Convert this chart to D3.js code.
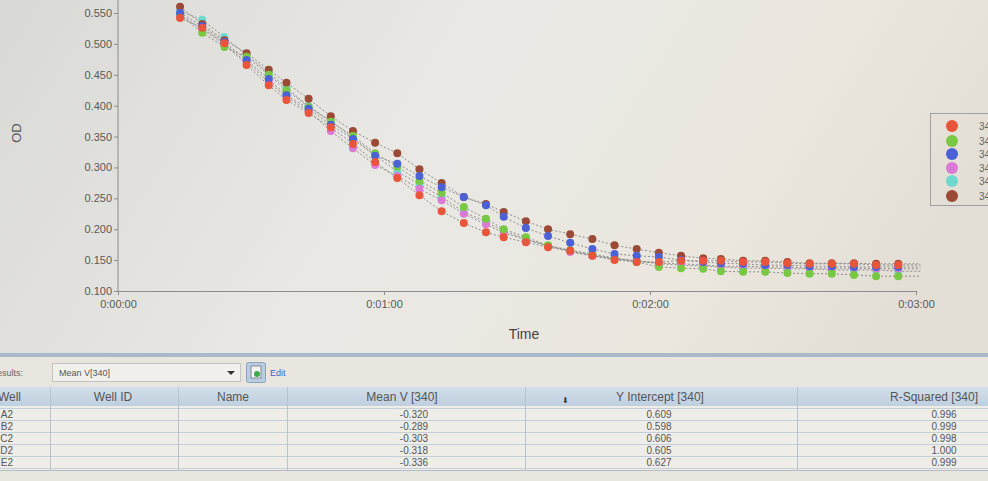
<!DOCTYPE html>
<html><head><meta charset="utf-8">
<script src="https://cdn.jsdelivr.net/npm/d3@7"></script>
<style>
body{margin:0;background:#e6e4df;}
svg{display:block;font-family:"Liberation Sans",Arial,sans-serif;}
</style>
</head><body>
<svg id="c" width="988" height="481"></svg>
<script>
// ---- data ----
const timesSec = [14,19,24,29,34,38,43,48,53,58,63,68,73,78,83,87,92,97,102,107,112,117,122,127,132,136,141,146,151,156,161,166,171,176];
const xTickSec = [0,60,120,180];
const xTickLabels = ["0:00:00","0:01:00","0:02:00","0:03:00"];
const yTicks = [0.100,0.150,0.200,0.250,0.300,0.350,0.400,0.450,0.500,0.550];
const seriesNames = ["340 A2","340 B2","340 C2","340 D2","340 E2","340 F2"];
const seriesColors = ["#e8553a","#78c843","#4a62d6","#da7ad6","#6fd8cf","#9b4a35"];
const odA2 = [0.542,0.526,0.501,0.466,0.433,0.409,0.388,0.365,0.338,0.309,0.283,0.255,0.229,0.210,0.195,0.187,0.179,0.171,0.165,0.157,0.150,0.147,0.147,0.149,0.149,0.149,0.147,0.147,0.145,0.144,0.144,0.144,0.142,0.142];
const odB2 = [0.547,0.518,0.495,0.479,0.450,0.425,0.398,0.374,0.351,0.323,0.301,0.278,0.259,0.236,0.217,0.200,0.187,0.174,0.166,0.160,0.153,0.147,0.139,0.137,0.136,0.132,0.131,0.131,0.129,0.128,0.128,0.126,0.124,0.124];
const odC2 = [0.550,0.529,0.503,0.474,0.443,0.417,0.395,0.369,0.346,0.319,0.306,0.286,0.268,0.252,0.239,0.220,0.202,0.189,0.178,0.168,0.160,0.157,0.155,0.150,0.147,0.145,0.144,0.142,0.142,0.140,0.140,0.139,0.139,0.139];
const odD2 = [0.547,0.524,0.498,0.471,0.438,0.414,0.391,0.359,0.331,0.304,0.286,0.265,0.247,0.225,0.208,0.194,0.183,0.173,0.163,0.157,0.152,0.149,0.145,0.144,0.142,0.140,0.140,0.139,0.139,0.137,0.137,0.137,0.136,0.136];
const odE2 = [0.553,0.539,0.511,0.482,0.453,0.429,0.399,0.375,0.348,0.320,0.293,0.273,0.252,0.228,0.212,0.197,0.184,0.173,0.165,0.158,0.153,0.149,0.144,0.142,0.140,0.139,0.137,0.137,0.136,0.136,0.134,0.134,0.134,0.132];
const odF2 = [0.560,0.532,0.506,0.485,0.458,0.437,0.411,0.383,0.359,0.340,0.323,0.297,0.275,0.252,0.241,0.228,0.213,0.200,0.192,0.184,0.174,0.168,0.162,0.157,0.153,0.152,0.149,0.149,0.147,0.145,0.145,0.145,0.144,0.144];
const seriesValues = [odA2,odB2,odC2,odD2,odE2,odF2];
const drawOrder = [4,3,5,1,2,0];

const tableHeaders = ["Well","Well ID","Name","Mean V [340]","Y Intercept [340]","R-Squared [340]"];
const tableWells = ["A2","B2","C2","D2","E2"];
const meanV = ["-0.320","-0.289","-0.303","-0.318","-0.336"];
const yIntercept = ["0.609","0.598","0.606","0.605","0.627"];
const rSquared = ["0.996","0.999","0.998","1.000","0.999"];

// ---- drawing ----
const svg = d3.select("#c");
const defs = svg.append("defs");
const bg = defs.append("linearGradient").attr("id","bg").attr("x1","0").attr("x2","1").attr("y1","0").attr("y2","0.3");
bg.append("stop").attr("offset","0").attr("stop-color","#d9d9d6");
bg.append("stop").attr("offset","0.45").attr("stop-color","#e9e8e4");
bg.append("stop").attr("offset","0.8").attr("stop-color","#ebe7df");
bg.append("stop").attr("offset","1").attr("stop-color","#e4dfd6");
const hdr = defs.append("linearGradient").attr("id","hdr").attr("x1","0").attr("x2","0").attr("y1","0").attr("y2","1");
hdr.append("stop").attr("offset","0").attr("stop-color","#d3dfea");
hdr.append("stop").attr("offset","1").attr("stop-color","#bfcfdf");

svg.append("rect").attr("width",988).attr("height",481).attr("fill","url(#bg)");

const x = d3.scaleLinear().domain([0,180]).range([118,916]);
const y = d3.scaleLinear().domain([0.1,0.55]).range([291,13]);

// axes
const yAxis = d3.axisLeft(y).tickValues(yTicks).tickFormat(d3.format(".3f")).tickSize(4).tickSizeOuter(0);
const gy = svg.append("g").attr("transform","translate(118,0)").call(yAxis);
gy.select(".domain").attr("d","M0,0V291").attr("stroke","#8c8c8c");
gy.selectAll(".tick line").attr("stroke","#8c8c8c");
gy.selectAll(".tick text").attr("fill","#5a5a5a").attr("font-size",11).attr("x",-6);

const xAxis = d3.axisBottom(x).tickValues(xTickSec).tickFormat((d,i)=>xTickLabels[i]).tickSize(4).tickSizeOuter(0);
const gx = svg.append("g").attr("transform","translate(0,291)").call(xAxis);
gx.select(".domain").attr("stroke","#8c8c8c");
gx.selectAll(".tick line").attr("stroke","#8c8c8c");
gx.selectAll(".tick text").attr("fill","#5a5a5a").attr("font-size",11).attr("dy","0.9em");

svg.append("text").attr("x",524).attr("y",339).attr("text-anchor","middle").attr("font-size",14).attr("fill","#444").text("Time");
svg.append("text").attr("transform","translate(21,133) rotate(-90)").attr("text-anchor","middle").attr("font-size",13).attr("fill","#555").text("OD");

// dashed lines
const line = d3.line().x(d=>x(d[0])).y(d=>y(d[1]));
seriesValues.forEach((vals,si)=>{
  const pts = timesSec.map((t,i)=>[t,vals[i]]);
  pts.push([181, vals[vals.length-1]]);
  svg.append("path").datum(pts).attr("d",line).attr("fill","none")
    .attr("stroke","#7e7e7e").attr("stroke-width",1).attr("stroke-dasharray","2,2").attr("opacity",0.85);
});
// points
drawOrder.forEach(si=>{
  svg.append("g").selectAll("circle").data(timesSec.map((t,i)=>[t,seriesValues[si][i]]))
    .join("circle").attr("cx",d=>x(d[0])).attr("cy",d=>y(d[1])).attr("r",4)
    .attr("fill",seriesColors[si]);
});

// legend
const lg = svg.append("g");
lg.append("rect").attr("x",930.5).attr("y",113.5).attr("width",70).attr("height",92).attr("fill","none").attr("stroke","#a0a0a0");
const legY = [126,141,154,168,181,196];
seriesNames.forEach((n,i)=>{
  lg.append("circle").attr("cx",952).attr("cy",legY[i]).attr("r",6).attr("fill",seriesColors[i]);
  lg.append("text").attr("x",979).attr("y",legY[i]+4).attr("font-size",10).attr("fill","#666").text(n);
});

// bottom panel
svg.append("rect").attr("x",0).attr("y",357).attr("width",988).attr("height",124).attr("fill","#e9e6e0");
svg.append("rect").attr("x",0).attr("y",353).attr("width",988).attr("height",4).attr("fill","#a9b9c9");
svg.append("text").attr("x",23).attr("y",376).attr("text-anchor","end").attr("font-size",9).attr("fill","#666").text("Results:");
svg.append("rect").attr("x",52.5).attr("y",363.5).attr("width",188).attr("height",18).attr("fill","#f2f0ec").attr("stroke","#c4c4c4");
svg.append("text").attr("x",59).attr("y",376).attr("font-size",9).attr("fill","#555").text("Mean V[340]");
svg.append("path").attr("d","M227,371 L235,371 L231,375 Z").attr("fill","#333");
svg.append("rect").attr("x",246.5).attr("y",362.5).attr("width",19).attr("height",20).attr("rx",2).attr("fill","#b9cde0").attr("stroke","#8aa4be");
svg.append("rect").attr("x",251).attr("y",366).attr("width",10).attr("height",12).attr("fill","#f4f4f4").attr("stroke","#889");
svg.append("circle").attr("cx",257).attr("cy",374).attr("r",3).attr("fill","#3da84a");
svg.append("text").attr("x",270).attr("y",376).attr("font-size",9).attr("fill","#3a63c8").text("Edit");

// table
const colLines = [50,178,287,525,797];
svg.append("rect").attr("x",0).attr("y",387).attr("width",988).attr("height",19).attr("fill","url(#hdr)");
svg.append("rect").attr("x",0).attr("y",406).attr("width",988).attr("height",64).attr("fill","#efede8");
const rowY = [408,420,432,444,456,468];
rowY.forEach(r=>svg.append("line").attr("x1",0).attr("x2",988).attr("y1",r+0.5).attr("y2",r+0.5).attr("stroke","#c5cfd9"));
svg.append("line").attr("x1",0).attr("x2",988).attr("y1",470.5).attr("y2",470.5).attr("stroke","#b0bcc8");
colLines.forEach(c=>svg.append("line").attr("x1",c+0.5).attr("x2",c+0.5).attr("y1",387).attr("y2",470).attr("stroke","#b7c3cf"));
const hdrX = [21,113,233,402,660,934];
const hdrAnchor = ["end","middle","middle","middle","middle","middle"];
tableHeaders.forEach((h,i)=>svg.append("text").attr("x",hdrX[i]).attr("y",401).attr("text-anchor",hdrAnchor[i])
  .attr("font-size",12).attr("fill","#555").text(h));
svg.append("text").attr("x",565).attr("y",403).attr("text-anchor","middle").attr("font-size",8).attr("fill","#333").text("⬇");
tableWells.forEach((w,i)=>{
  const yy = 417.5 + i*12;
  svg.append("text").attr("x",13).attr("y",yy).attr("text-anchor","end").attr("font-size",10).attr("fill","#555").text(w);
  svg.append("text").attr("x",414).attr("y",yy).attr("text-anchor","middle").attr("font-size",10).attr("fill","#555").text(meanV[i]);
  svg.append("text").attr("x",659).attr("y",yy).attr("text-anchor","middle").attr("font-size",10).attr("fill","#555").text(yIntercept[i]);
  svg.append("text").attr("x",944).attr("y",yy).attr("text-anchor","middle").attr("font-size",10).attr("fill","#555").text(rSquared[i]);
});
</script>
</body></html>
